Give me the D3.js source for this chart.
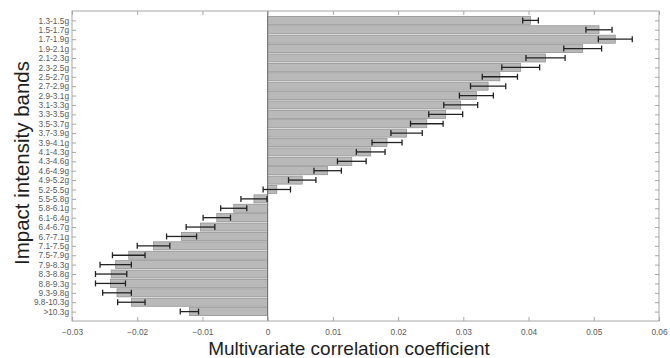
<!DOCTYPE html>
<html>
<head>
<meta charset="utf-8">
<script src="https://cdn.jsdelivr.net/npm/d3@7"></script>
<style>
  body { margin: 0; background: #fff; }
  svg { display: block; font-family: "Liberation Sans", Arial, sans-serif; }
</style>
</head>
<body>
<div id="chart"></div>
<script>
const bands = ["1.3-1.5g", "1.5-1.7g", "1.7-1.9g", "1.9-2.1g", "2.1-2.3g", "2.3-2.5g", "2.5-2.7g", "2.7-2.9g",
  "2.9-3.1g", "3.1-3.3g", "3.3-3.5g", "3.5-3.7g", "3.7-3.9g", "3.9-4.1g", "4.1-4.3g", "4.3-4.6g",
  "4.6-4.9g", "4.9-5.2g", "5.2-5.5g", "5.5-5.8g", "5.8-6.1g", "6.1-6.4g", "6.4-6.7g", "6.7-7.1g",
  "7.1-7.5g", "7.5-7.9g", "7.9-8.3g", "8.3-8.8g", "8.8-9.3g", "9.3-9.8g", "9.8-10.3g", ">10.3g"];

const coef = [0.0403, 0.0508, 0.0533, 0.0483, 0.0426, 0.0388, 0.0356, 0.0338,
  0.0320, 0.0296, 0.0273, 0.0244, 0.0213, 0.0183, 0.0158, 0.0129,
  0.0092, 0.0053, 0.0014, -0.0021, -0.0052, -0.0078, -0.0103, -0.0132,
  -0.0175, -0.0213, -0.0233, -0.0240, -0.0241, -0.0231, -0.0209, -0.0120];

const err = [0.0012, 0.0020, 0.0026, 0.0029, 0.0030, 0.0029, 0.0027, 0.0027,
  0.0026, 0.0026, 0.0026, 0.0025, 0.0024, 0.0023, 0.0022, 0.0022,
  0.0021, 0.0021, 0.0021, 0.0020, 0.0020, 0.0021, 0.0022, 0.0023,
  0.0025, 0.0025, 0.0024, 0.0024, 0.0023, 0.0022, 0.0021, 0.0014];

const xTicks = [-0.03, -0.02, -0.01, 0, 0.01, 0.02, 0.03, 0.04, 0.05, 0.06];

const width = 670, height = 358;
const margin = { top: 11, right: 11, bottom: 37, left: 72 };
const plotW = width - margin.left - margin.right;
const plotH = height - margin.top - margin.bottom;

const svg = d3.select("#chart").append("svg")
  .attr("width", width)
  .attr("height", height);

const g = svg.append("g")
  .attr("transform", `translate(${margin.left},${margin.top})`);

const x = d3.scaleLinear([-0.03, 0.06], [0, plotW]);
// MATLAB-like limits: categories sit on 1..n with one unit of room each side
const y = d3.scaleLinear([0, bands.length + 1], [0, plotH]);
const barH = (y(1) - y(0)) * 0.86;

// bars
g.selectAll("rect.bar")
  .data(coef)
  .enter()
  .append("rect")
  .attr("class", "bar")
  .attr("x", d => x(Math.min(0, d)))
  .attr("y", (d, i) => y(i + 1) - barH / 2)
  .attr("width", d => Math.abs(x(d) - x(0)))
  .attr("height", barH)
  .attr("fill", "#b9b9b9")
  .attr("stroke", "#8c8c8c")
  .attr("stroke-width", 0.7);

// baseline
g.append("line")
  .attr("x1", x(0)).attr("x2", x(0))
  .attr("y1", 0).attr("y2", plotH)
  .attr("stroke", "#6f6f6f")
  .attr("stroke-width", 1);

// error bars
const eb = g.selectAll("g.err")
  .data(coef)
  .enter()
  .append("g")
  .attr("class", "err")
  .attr("stroke", "#222")
  .attr("stroke-width", 1.3);

eb.append("line")
  .attr("x1", (d, i) => x(d - err[i]))
  .attr("x2", (d, i) => x(d + err[i]))
  .attr("y1", (d, i) => y(i + 1))
  .attr("y2", (d, i) => y(i + 1));

[-1, 1].forEach(s => {
  eb.append("line")
    .attr("x1", (d, i) => x(d + s * err[i]))
    .attr("x2", (d, i) => x(d + s * err[i]))
    .attr("y1", (d, i) => y(i + 1) - 3)
    .attr("y2", (d, i) => y(i + 1) + 3);
});

// frame
const axisColor = "#a6a6a6";
g.append("rect")
  .attr("x", 0).attr("y", 0)
  .attr("width", plotW).attr("height", plotH)
  .attr("fill", "none")
  .attr("stroke", axisColor)
  .attr("stroke-width", 1);

// x axis: bottom and top with inward ticks
const xAxis = d3.axisBottom(x)
  .tickValues(xTicks)
  .tickSize(-4)
  .tickPadding(8)
  .tickFormat(d => d === 0 ? "0" : d3.format("")(+d.toFixed(2)));

g.append("g")
  .attr("transform", `translate(0,${plotH})`)
  .call(xAxis);

g.append("g")
  .call(d3.axisTop(x).tickValues(xTicks).tickSize(-4).tickFormat(""));

// y axis: left with labels, right ticks only
const yAxis = d3.axisLeft(y)
  .tickValues(d3.range(1, bands.length + 1))
  .tickSize(-4)
  .tickPadding(3)
  .tickFormat(d => bands[d - 1]);

g.append("g").call(yAxis);

g.append("g")
  .attr("transform", `translate(${plotW},0)`)
  .call(d3.axisRight(y).tickValues(d3.range(1, bands.length + 1)).tickSize(-4).tickFormat(""));

g.selectAll(".domain").remove();
g.selectAll(".tick line").attr("stroke", axisColor);
g.selectAll(".tick text")
  .attr("fill", "#5a5a5a")
  .style("font-size", "8.3px");

// axis titles
svg.append("text")
  .attr("x", 349)
  .attr("y", 355)
  .attr("text-anchor", "middle")
  .attr("fill", "#1e1e1e")
  .style("font-size", "19px")
  .text("Multivariate correlation coefficient");

svg.append("text")
  .attr("transform", `translate(29,${163}) rotate(-90)`)
  .attr("text-anchor", "middle")
  .attr("fill", "#1e1e1e")
  .style("font-size", "20.5px")
  .text("Impact intensity bands");
</script>
</body>
</html>
